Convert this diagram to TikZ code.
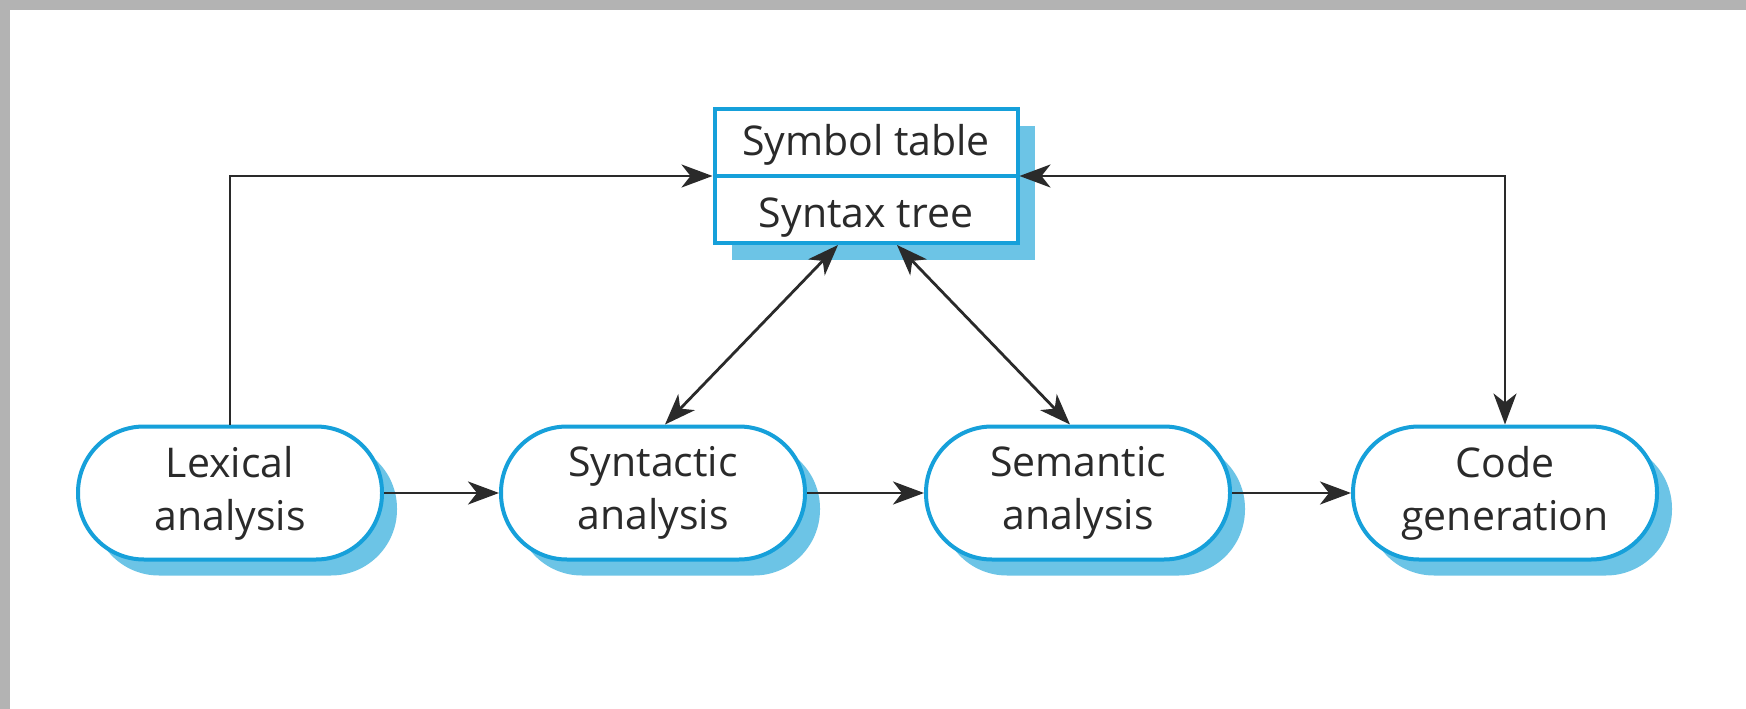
\documentclass[tikz,border=0pt]{standalone}
\usepackage{fontspec}
\setmainfont{Open Sans}
\usetikzlibrary{arrows.meta,shadows}
\definecolor{frameg}{HTML}{B3B3B3}
\definecolor{nodeblue}{HTML}{16A0DA}
\definecolor{shadowblue}{HTML}{6CC4E6}
\definecolor{ink}{HTML}{2A2A2A}
\begin{document}
\begin{tikzpicture}[x=1pt,y=-1pt,
  proc/.style={draw=nodeblue, line width=4pt, fill=white, rounded corners=66pt,
    minimum width=304pt, minimum height=133pt, inner sep=0pt, align=center, text=ink,
    font=\fontsize{41}{53}\selectfont,
    general shadow={shadow xshift=15pt, shadow yshift=-16pt, fill=shadowblue, draw=none}},
  tablebox/.style={draw=nodeblue, line width=4pt, fill=white,
    minimum width=303pt, minimum height=134pt, inner sep=0pt,
    general shadow={shadow xshift=17pt, shadow yshift=-17pt, fill=shadowblue, draw=none}},
  txt/.style={text=ink, font=\fontsize{41}{53}\selectfont, inner sep=0pt, anchor=base},
  tip/.tip={Stealth[length=31pt,width=23pt,inset=9pt]},
  arr/.style={draw=ink, line width=2.8pt, -tip},
  biarr/.style={draw=ink, line width=2.8pt, tip-tip}]
\fill[white] (0,0) rectangle (1746,709);
\useasboundingbox (0,0) rectangle (1746,709);
\fill[frameg] (0,0) rectangle (1746,10);
\fill[frameg] (0,0) rectangle (10,709);

\node[tablebox] (st) at (866,176) {};
\draw[draw=nodeblue, line width=4pt] (st.west) -- (st.east);
\node[txt] (st1) at (866,155) {Symbol table};
\node[txt] (st2) at (866,227) {Syntax tree};

\node[proc] (lex)  at (230,493)  {Lexical\\analysis};
\node[proc] (syn)  at (653,493)  {Syntactic\\analysis};
\node[proc] (sem)  at (1078,493) {Semantic\\analysis};
\node[proc] (code) at (1505,493) {Code\\generation};

\draw[arr] (lex.north) |- (st.west);
\draw[biarr] (st.east) -| (code.north);
\draw[biarr] ([xshift=-28pt]st.south) -- ([xshift=12pt]syn.north);
\draw[biarr] ([xshift=31pt]st.south) -- ([xshift=-8pt]sem.north);
\draw[arr] (lex.east) -- (syn.west);
\draw[arr] (syn.east) -- (sem.west);
\draw[arr] (sem.east) -- (code.west);
\end{tikzpicture}
\end{document}
